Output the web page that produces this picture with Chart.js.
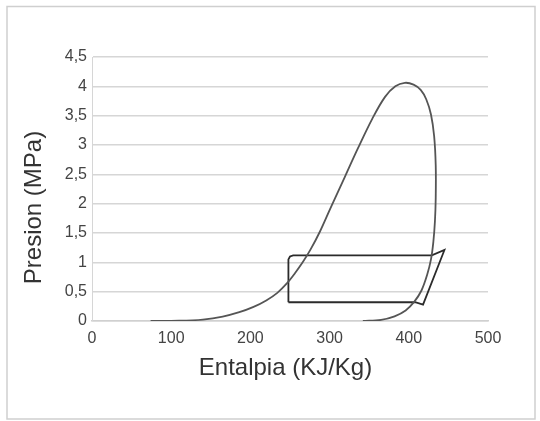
<!DOCTYPE html>
<html>
<head>
<meta charset="utf-8">
<script src="https://cdn.jsdelivr.net/npm/chart.js@4/dist/chart.umd.min.js"></script>
<style>
  html, body { margin: 0; padding: 0; background: #fff; }
  #wrap { width: 540px; height: 421px; }
</style>
</head>
<body>
<div id="wrap"><canvas id="chart" width="540" height="421"></canvas></div>
<script>
// saturation dome (liquid side, then vapor side)
const domeH = [74, 110, 140, 165, 186, 204, 220, 234, 246, 256, 266, 276, 288, 301, 319, 336, 354, 370, 383, 395,
               406, 415, 422, 428, 432, 434, 434, 433, 431, 428, 423, 416, 407, 396, 382, 365, 342]
const domeP = [0, 0.004, 0.025, 0.075, 0.15, 0.24, 0.35, 0.48, 0.64, 0.81, 1.0, 1.22, 1.53, 1.92, 2.45, 2.95, 3.45, 3.82, 4.0, 4.06,
               4.03, 3.94, 3.78, 3.52, 3.15, 2.65, 2.1, 1.7, 1.35, 1.05, 0.78, 0.52, 0.33, 0.18, 0.08, 0.02, 0]

// refrigeration cycle
const cycleH = [248, 248, 250, 254, 429, 445, 418, 408, 248]
const cycleP = [0.32, 1.05, 1.1, 1.12, 1.12, 1.21, 0.28, 0.32, 0.32]

const xTickLabels = ['0', '100', '200', '300', '400', '500']
const yTickLabels = ['0', '0,5', '1', '1,5', '2', '2,5', '3', '3,5', '4', '4,5']

const xTitle = 'Entalpia (KJ/Kg)'
const yTitle = 'Presion (MPa)'

const toPoints = (xs, ys) => xs.map((x, i) => ({ x: x, y: ys[i] }))

const frame = {
    id: 'frame',
    beforeDraw(chart) {
        const ctx = chart.ctx
        ctx.save()
        ctx.fillStyle = '#fff'
        ctx.fillRect(0, 0, chart.width, chart.height)
        ctx.strokeStyle = '#cfcfcf'
        ctx.lineWidth = 1.5
        ctx.strokeRect(7, 6.5, 528, 412.5)
        ctx.restore()
    },
    afterDraw(chart) {
        const ctx = chart.ctx
        ctx.save()
        ctx.fillStyle = '#333'
        ctx.font = '24px "Liberation Sans", Arial, sans-serif'
        ctx.textAlign = 'center'
        ctx.textBaseline = 'middle'
        ctx.fillText(xTitle, 285.5, 368)
        ctx.translate(34, 207.5)
        ctx.rotate(-Math.PI / 2)
        ctx.fillText(yTitle, 0, 0)
        ctx.restore()
    }
}

const config = {
    type: 'scatter',
    data: {
        datasets: [{
            label: 'Domo',
            data: toPoints(domeH, domeP),
            showLine: true,
            borderColor: '#555',
            borderWidth: 1.8,
            tension: 0.35,
            pointRadius: 0
        }, {
            label: 'Ciclo',
            data: toPoints(cycleH, cycleP),
            showLine: true,
            borderColor: '#2b2b2b',
            borderWidth: 1.8,
            tension: 0,
            pointRadius: 0
        }]
    },
    options: {
        responsive: false,
        animation: false,
        devicePixelRatio: 1,
        layout: { padding: { top: 57, right: 52, left: 0, bottom: 0 } },
        plugins: {
            legend: { display: false },
            tooltip: { enabled: false }
        },
        scales: {
            x: {
                type: 'linear',
                min: 0,
                max: 500,
                afterFit: (s) => { s.height = 100 },
                ticks: {
                    stepSize: 100,
                    padding: 8,
                    color: '#444',
                    font: { family: '"Liberation Sans", Arial, sans-serif', size: 16 },
                    callback: (v, i) => xTickLabels[i]
                },
                grid: { display: false, drawTicks: false },
                border: { display: true, color: '#d0d0d0', width: 1.5 }
            },
            y: {
                type: 'linear',
                min: 0,
                max: 4.5,
                afterFit: (s) => { s.width = 92 },
                ticks: {
                    stepSize: 0.5,
                    padding: 5,
                    color: '#444',
                    font: { family: '"Liberation Sans", Arial, sans-serif', size: 16 },
                    callback: (v, i) => yTickLabels[i]
                },
                grid: { color: '#d6d6d6', lineWidth: 1.5, drawTicks: false },
                border: { display: true, color: '#d6d6d6', width: 1 }
            }
        }
    },
    plugins: [frame]
}

new Chart(document.getElementById('chart'), config)
</script>
</body>
</html>
